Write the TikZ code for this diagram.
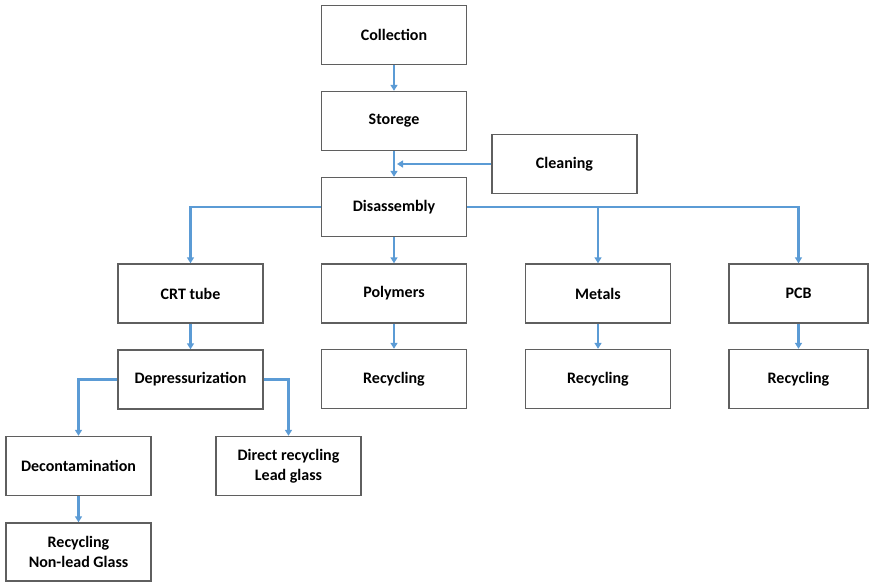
\documentclass[tikz,border=0pt]{standalone}
\usepackage{fontspec}
\setmainfont{Carlito}
\usetikzlibrary{arrows.meta}
\definecolor{flowblue}{RGB}{91,155,213}
\definecolor{boxgray}{RGB}{95,95,95}
\begin{document}
\begin{tikzpicture}[x=1pt,y=-1pt,
  stepbox/.style={draw=boxgray,line width=1.4pt,minimum width=145pt,minimum height=59pt,
    inner sep=2pt,align=center,font=\fontsize{16}{20}\selectfont\bfseries,fill=white},
  flow/.style={draw=flowblue,line width=2.4pt,-{Triangle[length=6pt,width=7pt]}}]
\useasboundingbox (0,0) rectangle (870,582);
% main chain
\node[stepbox] (coll) at (394,35) {Collection};
\node[stepbox] (stor) at (394,121) {Storege};
\node[stepbox] (clean) at (564.5,164) {Cleaning};
\node[stepbox] (dis) at (394,207) {Disassembly};
% fractions
\node[stepbox] (crt) at (190.5,293.5) {CRT tube};
\node[stepbox] (poly) at (394,293.5) {Polymers};
\node[stepbox] (met) at (598,293.5) {Metals};
\node[stepbox,minimum width=139pt] (pcb) at (798.5,293.5) {PCB};
\node[stepbox] (rpoly) at (394,379) {Recycling};
\node[stepbox] (rmet) at (598,379) {Recycling};
\node[stepbox,minimum width=139pt] (rpcb) at (798.5,379) {Recycling};
% CRT branch
\node[stepbox] (dep) at (190.5,379.5) {Depressurization};
\node[stepbox] (decon) at (78.5,466) {Decontamination};
\node[stepbox] (direct) at (288.5,466) {Direct recycling\\Lead glass};
\node[stepbox,minimum height=58pt] (nonlead) at (78.5,552) {Recycling\\Non-lead Glass};
% connectors
\draw[flow] (coll) -- (stor);
\draw[flow] (stor) -- (dis);
\coordinate (cj) at ([xshift=3pt]stor.south |- clean.west);
\draw[flow] (clean.west) -- (cj);
\draw[flow] (dis.west) -| (crt.north);
\draw[flow] (dis) -- (poly);
\draw[flow] (dis.east) -| (pcb.north);
\coordinate (mj) at (met.north |- dis.east);
\draw[flow] (mj) -- (met.north);
\draw[flow] (poly) -- (rpoly);
\draw[flow] (met) -- (rmet);
\draw[flow] (pcb) -- (rpcb);
\draw[flow] (crt) -- (dep);
\draw[flow] (dep.west) -| (decon.north);
\draw[flow] (dep.east) -| (direct.north);
\draw[flow] (decon) -- (nonlead);
\end{tikzpicture}
\end{document}
